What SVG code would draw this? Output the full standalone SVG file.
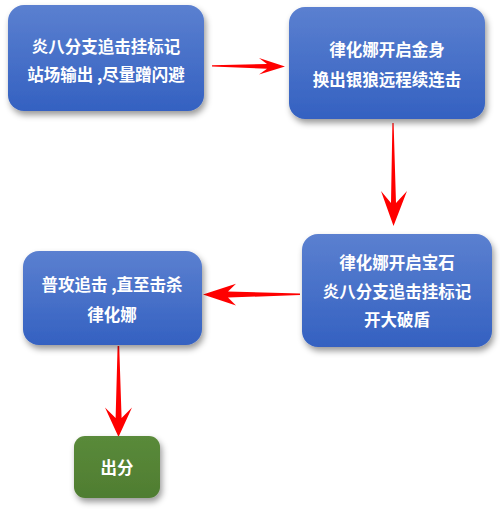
<svg xmlns="http://www.w3.org/2000/svg" width="500" height="512" viewBox="0 0 500 512">
<defs>
<linearGradient id="blue" x1="0" y1="0" x2="0" y2="1">
<stop offset="0" stop-color="#5b80d0"/>
<stop offset="1" stop-color="#3461c1"/>
</linearGradient>
<linearGradient id="green" x1="0" y1="0" x2="0" y2="1">
<stop offset="0" stop-color="#5a8a3a"/>
<stop offset="1" stop-color="#4f7d31"/>
</linearGradient>
<filter id="sh" x="-20%" y="-20%" width="140%" height="150%">
<feDropShadow dx="2" dy="4" stdDeviation="3" flood-color="#000" flood-opacity="0.4"/>
</filter>
</defs>
<style>
.box{fill:url(#blue);filter:url(#sh)}
.gbox{fill:url(#green);filter:url(#sh)}
.t{font-family:"Noto Sans CJK SC","Noto Sans",sans-serif;font-size:16.5px;font-weight:bold;fill:#fff;text-anchor:middle}
.arr{fill:#f00}
</style>
<rect width="500" height="512" fill="#fff"/>
<g id="connectors">
<polygon class="arr" points="212,65.2 267,64 259,58 285,66.5 259,74.5 267,68.8 212,66.6"/>
<polygon class="arr" points="392.4,123 393.6,123 396,203 407,191 393.5,226 381,191 391,203"/>
<polygon class="arr" points="300,293.6 300,295 228,297.6 236,305.5 203,294.5 236,283.8 228,291.5"/>
<polygon class="arr" points="117.6,346 119.2,346 121.6,418 132,407.5 118.5,437 105,407.5 115.6,418"/>
</g>
<g id="n1">
<rect class="box" x="8" y="5" width="196" height="106" rx="16"/>
<text class="t" x="106" y="53">炎八分支追击挂标记</text>
<text class="t" x="106" y="81">站场输出 ,尽量蹭闪避</text>
</g>
<g id="n2">
<rect class="box" x="289" y="7" width="196" height="112" rx="16"/>
<text class="t" x="387" y="56">律化娜开启金身</text>
<text class="t" x="387" y="86">换出银狼远程续连击</text>
</g>
<g id="n3">
<rect class="box" x="302" y="234" width="190" height="113" rx="16"/>
<text class="t" x="397" y="269">律化娜开启宝石</text>
<text class="t" x="397" y="298">炎八分支追击挂标记</text>
<text class="t" x="397" y="326">开大破盾</text>
</g>
<g id="n4">
<rect class="box" x="23" y="251" width="179" height="94" rx="16"/>
<text class="t" x="112" y="291">普攻追击 ,直至击杀</text>
<text class="t" x="112" y="321">律化娜</text>
</g>
<g id="n5">
<rect class="gbox" x="74" y="436" width="86" height="62" rx="11"/>
<text class="t" x="117" y="474">出分</text>
</g>
</svg>
